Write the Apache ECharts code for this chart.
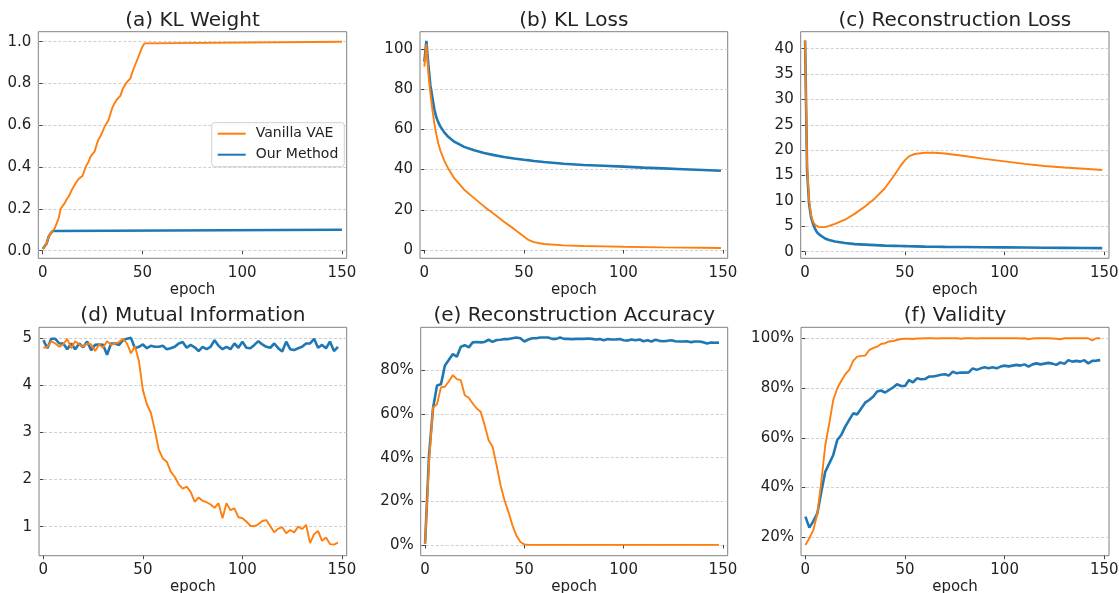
<!DOCTYPE html>
<html><head><meta charset="utf-8">
<script src="https://cdn.jsdelivr.net/npm/echarts@6/dist/echarts.min.js"></script>
<style>html,body{margin:0;padding:0;background:#fff}#c{width:1119px;height:593px}</style>
</head><body><div id="c"></div>
<script>
// ---------------- DATA ----------------
const seriesNames = ['Vanilla VAE', 'Our Method'];
const titles = ['(a) KL Weight', '(b) KL Loss', '(c) Reconstruction Loss',
                '(d) Mutual Information', '(e) Reconstruction Accuracy', '(f) Validity'];
const xTicks = [0, 50, 100, 150];

// (a) KL Weight
const epochsA_vae = [0,1,2,3,4,5,6,7,8,9,10,11,12,13,14,15,16,17,18,19,20,21,22,23,24,25,26,27,28,29,30,31,32,33,34,35,36,37,38,39,40,41,42,43,44,45,46,47,48,49,50,51,52,150];
const klWeightVae = [0.008,0.011,0.035,0.067,0.083,0.094,0.107,0.131,0.155,0.200,0.214,0.226,0.246,0.258,0.266,0.298,0.314,0.330,0.343,0.351,0.359,0.386,0.410,0.426,0.450,0.463,0.474,0.506,0.533,0.549,0.569,0.593,0.609,0.625,0.657,0.686,0.705,0.721,0.729,0.742,0.772,0.788,0.804,0.813,0.825,0.856,0.880,0.904,0.928,0.952,0.976,0.992,1.0,1.0];
const epochsA_our = [0,1,2,3,4,5,6,150];
const klWeightOur = [0.008,0.011,0.035,0.067,0.083,0.094,0.1,0.1];
const yTicksA = [0, 0.2, 0.4, 0.6, 0.8, 1.0];

// (b) KL Loss
const epochsB = [0,1,2,3,4,5,6,7,8,10,12,15,20,25,30,35,40,45,50,52,55,60,70,80,90,100,110,120,130,140,149];
const klLossVae = [91.2,102.5,88,78,70,63,57.5,53,49.5,44.5,40.5,35.7,30,25.8,21.7,17.9,14.1,10.5,6.7,5.2,3.9,3.0,2.3,2.0,1.8,1.6,1.45,1.3,1.2,1.1,1.0];
const klLossOur = [93.7,104,92,82,76,70,66,63.5,61.5,58.5,56.3,53.9,51.3,49.6,48.3,47.2,46.3,45.5,44.9,44.7,44.3,43.8,42.9,42.3,41.9,41.5,41.0,40.6,40.2,39.8,39.4];
const yTicksB = [0, 20, 40, 60, 80, 100];

// (c) Reconstruction Loss
const epochsC = [0,1,2,3,4,5,6,7,8,10,12,15,20,25,30,35,40,45,48,50,52,55,60,65,70,80,90,100,110,120,130,140,149];
const recLossVae = [41.6,17,10.2,7.2,5.9,5.3,5.0,4.85,4.8,4.85,5.1,5.5,6.3,7.5,8.9,10.5,12.5,15.2,17.0,18.0,18.8,19.25,19.5,19.5,19.35,18.85,18.3,17.8,17.3,16.9,16.6,16.35,16.1];
const recLossOur = [41.6,16,9.5,6.8,5.5,4.5,3.8,3.4,3.1,2.6,2.3,2.0,1.7,1.5,1.4,1.3,1.2,1.15,1.12,1.1,1.08,1.05,1.0,0.98,0.95,0.92,0.88,0.85,0.82,0.79,0.76,0.73,0.7];
const yTicksC = [0, 5, 10, 15, 20, 25, 30, 35, 40];

// (d)(e)(f) evaluated every 2 epochs: 0, 2, ..., 148
const epochsDEF = Array.from({length: 75}, (_, i) => 2 * i);

// (d) Mutual Information
const miVae = [4.80,4.82,4.94,4.89,4.82,4.87,4.99,4.79,4.94,4.87,4.82,4.89,4.87,4.73,4.87,4.80,4.94,4.86,4.89,4.92,4.99,4.89,4.68,4.83,4.52,3.90,3.60,3.42,3.05,2.63,2.45,2.38,2.17,2.06,1.90,1.81,1.85,1.74,1.53,1.62,1.55,1.52,1.47,1.40,1.50,1.18,1.50,1.35,1.39,1.20,1.18,1.11,1.02,1.01,1.05,1.12,1.14,1.01,0.88,0.96,0.99,0.86,0.93,0.88,1.00,0.95,1.04,0.65,0.84,0.91,0.70,0.77,0.63,0.62,0.66];
const miOur = [4.96,4.79,4.99,4.99,4.89,4.89,4.77,4.89,4.77,4.89,4.81,4.93,4.75,4.86,4.87,4.86,4.65,4.89,4.89,4.86,4.96,4.99,5.01,4.79,4.82,4.87,4.79,4.84,4.82,4.82,4.84,4.77,4.79,4.82,4.89,4.92,4.80,4.86,4.81,4.73,4.82,4.77,4.82,4.96,4.84,4.77,4.82,4.77,4.89,4.80,4.93,4.80,4.79,4.86,4.94,4.87,4.82,4.80,4.89,4.79,4.72,4.93,4.77,4.75,4.79,4.82,4.89,4.89,4.99,4.80,4.86,4.79,4.93,4.73,4.82];
const yTicksD = [1, 2, 3, 4, 5];

// (e) Reconstruction Accuracy (%)
const accVae = [0.6,38,63,64.5,72.2,72.5,75,77.8,76,75.5,68.6,67.4,64.8,62.5,61,54.9,48,45,36.6,27.4,20.5,15.1,9,4.4,1.4,0.3,0.1,0.05,0.05,0.05,0.05,0.05,0.05,0.05,0.05,0.05,0.05,0.05,0.05,0.05,0.05,0.05,0.05,0.05,0.05,0.05,0.05,0.05,0.05,0.05,0.05,0.05,0.05,0.05,0.05,0.05,0.05,0.05,0.05,0.05,0.05,0.05,0.05,0.05,0.05,0.05,0.05,0.05,0.05,0.05,0.05,0.05,0.05,0.05,0.05];
const accOur = [0.6,41,62.6,73,73.6,82.2,84.8,87.5,86.2,90.8,91.5,90.5,92.8,93.0,92.8,93.0,94.0,93.0,93.9,94.0,94.3,94.3,94.7,95.0,94.7,93.2,94.1,94.7,94.7,95.0,95.0,95.0,94.4,94.4,95.0,94.4,94.4,94.3,94.4,94.4,94.4,94.6,94.4,94.1,94.3,93.8,94.3,94.1,94.1,94.3,93.8,93.6,94.1,93.8,94.1,93.3,93.8,93.2,94.0,93.5,93.3,93.5,93.8,93.3,93.2,93.2,93.3,92.9,93.2,93.2,92.9,92.3,92.7,92.6,92.7];
const yTicksE = [0, 20, 40, 60, 80];

// (f) Validity (%)
const validVae = [16.9,19.6,22.9,29.5,42.4,57.1,65.8,75.2,79.9,82.8,85.5,87.3,90.9,92.6,92.9,93.0,95.2,96.0,96.6,97.7,98.0,98.7,98.9,99.3,99.7,99.8,99.8,99.7,99.9,99.9,100,100,100,99.9,100,100,100,100,100,99.8,100,100,100,99.9,100,100,100,100,100,100,100,100,100,100,99.9,100,99.6,99.9,100,100,100,100,99.9,99.8,99.6,100,100,100,100,100,100,100,99.1,100,100];
const validOur = [28.3,23.9,26.5,29.6,38.3,46.4,49.7,53.1,59.1,61.1,64.5,67.2,69.8,69.4,71.8,74.1,75.2,76.5,78.6,79.0,78.2,79.2,80.2,81.5,80.8,80.8,83.2,82.3,83.9,83.5,83.6,84.6,84.6,84.9,85.3,85.5,85.0,86.6,85.9,86.2,86.2,86.3,87.9,87.3,87.9,88.3,87.9,88.3,87.9,88.6,89.0,88.7,89.0,89.3,89.0,89.5,88.6,89.5,89.9,89.5,89.8,90.1,89.8,89.3,90.3,89.7,91.2,90.6,90.9,90.6,91.2,89.9,90.9,91.0,91.2];
const yTicksF = [20, 40, 60, 80, 100];

// ---------------- CHART ----------------
const FONT = 'DejaVu Sans';
const ORANGE = '#ff7f0e', BLUE = '#1f77b4';
const TXT = '#222222';

const grids = [
  {left: 38.3, top: 31.7, width: 308.4, height: 226.6},
  {left: 420.0, top: 31.7, width: 307.7, height: 226.6},
  {left: 800.7, top: 31.7, width: 308.3, height: 226.6},
  {left: 39.0, top: 327.3, width: 307.7, height: 228.4},
  {left: 420.7, top: 327.3, width: 307.0, height: 228.4},
  {left: 801.0, top: 327.3, width: 308.0, height: 228.4}
];
const yRanges = [[-0.0364, 1.0478], [-4.13, 108.6], [-1.3, 43.35], [0.384, 5.234], [-4.9, 99.7], [12.6, 104.4]];
const yTicks = [yTicksA, yTicksB, yTicksC, yTicksD, yTicksE, yTicksF];
const yFmt = [v => v.toFixed(1), v => String(v), v => String(v), v => String(v), v => v + '%', v => v + '%'];

const pairs = (xs, ys) => xs.map((x, i) => [x, ys[i]]);

const option = {
  animation: false,
  backgroundColor: '#fff',
  textStyle: {fontFamily: FONT},
  title: titles.map((t, i) => ({
    text: t,
    left: grids[i].left + grids[i].width / 2,
    top: (i < 3 ? 11 : 306),
    textAlign: 'center',
    padding: 0,
    textStyle: {fontFamily: FONT, fontSize: 20, fontWeight: 'normal', color: TXT}
  })),
  grid: grids.map(g => Object.assign({show: true, borderColor: '#808080', borderWidth: 1,
                                      backgroundColor: 'transparent', containLabel: false, outerBoundsMode: 'none'}, g)),
  legend: {
    data: seriesNames,
    orient: 'vertical',
    left: 211.7, top: 122.7,
    padding: [4, 6, 5, 5],
    itemWidth: 28, itemHeight: 14, itemGap: 7,
    itemStyle: {opacity: 0},
    borderColor: '#d0d0d0', borderWidth: 1, borderRadius: 3,
    backgroundColor: 'rgba(255,255,255,0.8)',
    textStyle: {fontFamily: FONT, fontSize: 14, color: TXT, padding: [0, 0, 0, 5]}
  },
  xAxis: grids.map((g, i) => ({
    type: 'value', gridIndex: i, min: -2.2, max: 152.4,
    name: 'epoch', nameLocation: 'middle', nameGap: 24,
    nameTextStyle: {fontFamily: FONT, fontSize: 15, color: TXT},
    axisLine: {show: false},
    axisTick: {show: true, inside: false, length: 3.5, lineStyle: {color: '#444', width: 1}, customValues: xTicks},
    axisLabel: {show: true, margin: 7, fontFamily: FONT, fontSize: 15, color: TXT, customValues: xTicks},
    splitLine: {show: false}
  })),
  yAxis: grids.map((g, i) => ({
    type: 'value', gridIndex: i, min: yRanges[i][0], max: yRanges[i][1],
    axisLine: {show: false},
    axisTick: {show: true, inside: false, length: 3.5, lineStyle: {color: '#444', width: 1}, customValues: yTicks[i]},
    axisLabel: {show: true, margin: 7, fontFamily: FONT, fontSize: 15, color: TXT, customValues: yTicks[i], formatter: yFmt[i]},
    splitLine: {show: true, lineStyle: {color: '#c4c4c4', width: 0.8, type: [3, 2]}}
  })),
  series: []
};

const panels = [
  [pairs(epochsA_our, klWeightOur), pairs(epochsA_vae, klWeightVae)],
  [pairs(epochsB, klLossOur), pairs(epochsB, klLossVae)],
  [pairs(epochsC, recLossOur), pairs(epochsC, recLossVae)],
  [pairs(epochsDEF, miOur), pairs(epochsDEF, miVae)],
  [pairs(epochsDEF, accOur), pairs(epochsDEF, accVae)],
  [pairs(epochsDEF, validOur), pairs(epochsDEF, validVae)]
];
panels.forEach((p, i) => {
  option.series.push({
    name: seriesNames[1], type: 'line', xAxisIndex: i, yAxisIndex: i, data: p[0],
    symbol: 'none', showSymbol: false, color: BLUE,
    lineStyle: {color: BLUE, width: 2.6}, z: 2
  });
  option.series.push({
    name: seriesNames[0], type: 'line', xAxisIndex: i, yAxisIndex: i, data: p[1],
    symbol: 'none', showSymbol: false, color: ORANGE,
    lineStyle: {color: ORANGE, width: 1.9}, z: 3
  });
});

const chart = echarts.init(document.getElementById('c'), null, {renderer: 'canvas'});
chart.setOption(option);
</script>
</body></html>
